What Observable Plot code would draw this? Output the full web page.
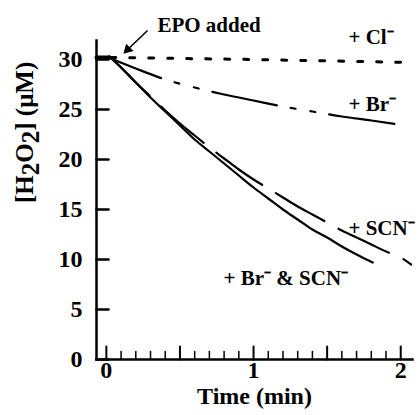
<!DOCTYPE html>
<html><head><meta charset="utf-8">
<script src="https://cdn.jsdelivr.net/npm/d3@7"></script>
<script src="https://cdn.jsdelivr.net/npm/@observablehq/plot@0.6"></script>
<style>
body{margin:0;background:#fff}
svg text{font-family:"Liberation Serif","Times New Roman",serif;font-weight:bold}
</style>
</head><body><div id="chart"></div>
<script>
// Axis domains and ticks
const xDomain = [-0.067, 2.08];
const yDomain = [0, 31.9];
const yTicks = [0, 5, 10, 15, 20, 25, 30];
const xMajorTicks = [0, 0.5, 1, 1.5, 2];
const xMinorTicks = [0.1,0.2,0.3,0.4,0.6,0.7,0.8,0.9,1.1,1.2,1.3,1.4,1.6,1.7,1.8,1.9];
const xTickLabels = [0, 1, 2];
const xTitle = "Time (min)";
const yTitle = "[H2O2] (μM)";

// Series: + Br- & SCN- (solid)
const timeBrSCN = [0.02,0.1,0.2,0.3,0.4,0.5,0.6,0.7,0.8,0.9,1.0,1.1,1.2,1.3,1.4,1.5,1.6,1.7,1.81];
const h2o2BrSCN = [30.3,29.2,27.7,26.2,24.8,23.4,22.0,20.8,19.6,18.4,17.2,16.1,15.0,14.0,13.0,12.2,11.3,10.5,9.7];
// + SCN- (long dashes)
const timeSCN = [0.02,0.1,0.2,0.3,0.4,0.5,0.6,0.7,0.8,0.9,1.0,1.1,1.2,1.3,1.4,1.5,1.6,1.7,1.8,1.9,2.0,2.07];
const h2o2SCN = [30.3,29.2,27.7,26.3,24.9,23.6,22.4,21.2,20.1,19.0,18.0,17.1,16.2,15.3,14.5,13.7,12.9,12.2,11.5,10.8,10.2,9.5];
// + Br- (dash-dot-dot)
const timeBr = [0.03,0.2,0.4,0.6,0.8,1.0,1.2,1.4,1.6,1.8,1.99];
const h2o2Br = [30.1,29.1,28.0,27.2,26.5,25.9,25.3,24.8,24.3,23.9,23.5];
// + Cl- (dotted)
const timeCl = [0.03,1.0,2.08];
const h2o2Cl = [30.2,30.0,29.7];
// baseline before EPO addition
const timeBase = [-0.067, 0.02];
const h2o2Base = [30.2, 30.2];

// Annotations
const labelText = ["+ Cl⁻", "+ Br⁻", "+ SCN⁻", "+ Br⁻ & SCN⁻", "EPO added"];
const labelX = [1.645, 1.645, 1.645, 0.796, 0.347];
const labelY = [32.2, 25.5, 13.1, 8.1, 33.4];
const arrowFrom = [0.28, 32.9];
const arrowTo = [0.145, 31.0];

const rows = (ts, vs) => ts.map((t, i) => ({t, v: vs[i]}));
const labels = labelText.map((s, i) => ({s, x: labelX[i], y: labelY[i]}));
const tickShape = {draw(ctx, l) { ctx.moveTo(0, 0); ctx.lineTo(0, -l); }};
const font = {fontFamily: "Liberation Serif", fontWeight: "bold"};

const chart = Plot.plot({
  width: 418, height: 415,
  marginLeft: 96, marginRight: 6, marginTop: 40, marginBottom: 56,
  x: {domain: xDomain, axis: null},
  y: {domain: yDomain, axis: null},
  style: {background: "#fff", color: "#000", overflow: "visible"},
  marks: [
    Plot.frame({anchor: "left", stroke: "#000", strokeWidth: 2.5}),
    Plot.frame({anchor: "bottom", stroke: "#000", strokeWidth: 2.5}),
    Plot.vector(yTicks, {y: d => d, frameAnchor: "left", length: 12, rotate: 90, anchor: "start", shape: tickShape, stroke: "#000", strokeWidth: 2.5}),
    Plot.vector(xMajorTicks, {x: d => d, frameAnchor: "bottom", length: 13, anchor: "start", shape: tickShape, stroke: "#000", strokeWidth: 2}),
    Plot.vector(xMinorTicks, {x: d => d, frameAnchor: "bottom", length: 8, anchor: "start", shape: tickShape, stroke: "#000", strokeWidth: 1.5}),
    Plot.text(yTicks, {y: d => d, frameAnchor: "left", text: d => String(d), dx: -14, textAnchor: "end", fontSize: 24, ...font}),
    Plot.text(xTickLabels, {x: d => d, frameAnchor: "bottom", text: d => String(d), dy: 18, fontSize: 24, ...font}),
    Plot.text([xTitle], {frameAnchor: "bottom", text: d => d, dy: 44, fontSize: 24, ...font}),
    Plot.text([yTitle], {frameAnchor: "left", text: d => d, dx: -72, dy: 3, rotate: -90, fontSize: 25, ...font}),
    Plot.line(rows(timeBase, h2o2Base), {x: "t", y: "v", stroke: "#000", strokeWidth: 4}),
    Plot.line(rows(timeCl, h2o2Cl), {x: "t", y: "v", stroke: "#000", strokeWidth: 3, strokeDasharray: "5 14"}),
    Plot.line(rows(timeBr, h2o2Br), {x: "t", y: "v", curve: "monotone-x", stroke: "#000", strokeWidth: 2.2, strokeDasharray: "66 14 5 15 5 14", strokeDashoffset: 12}),
    Plot.line(rows(timeSCN, h2o2SCN), {x: "t", y: "v", curve: "monotone-x", stroke: "#000", strokeWidth: 2.2, strokeDasharray: "56 16", strokeDashoffset: 0}),
    Plot.line(rows(timeBrSCN, h2o2BrSCN), {x: "t", y: "v", curve: "monotone-x", stroke: "#000", strokeWidth: 2.2}),
    Plot.text(labels, {x: "x", y: "y", text: "s", textAnchor: "start", fontSize: 21, ...font}),
    Plot.link([0], {x1: () => arrowFrom[0], y1: () => arrowFrom[1], x2: () => arrowTo[0], y2: () => arrowTo[1], stroke: "#000", strokeWidth: 1.6}),
    Plot.dot([0], {x: () => arrowTo[0], y: () => arrowTo[1], symbol: "triangle2", r: 5, rotate: 225, fill: "#000"})
  ]
});
document.getElementById("chart").appendChild(chart);
// subscripts in the y title
d3.select(chart).selectAll("text").filter(function() { return this.textContent === yTitle; })
  .html('[H<tspan dy="6">2</tspan><tspan dy="-6">O</tspan><tspan dy="6">2</tspan><tspan dy="-6">] (μM)</tspan>');
</script>
</body></html>
